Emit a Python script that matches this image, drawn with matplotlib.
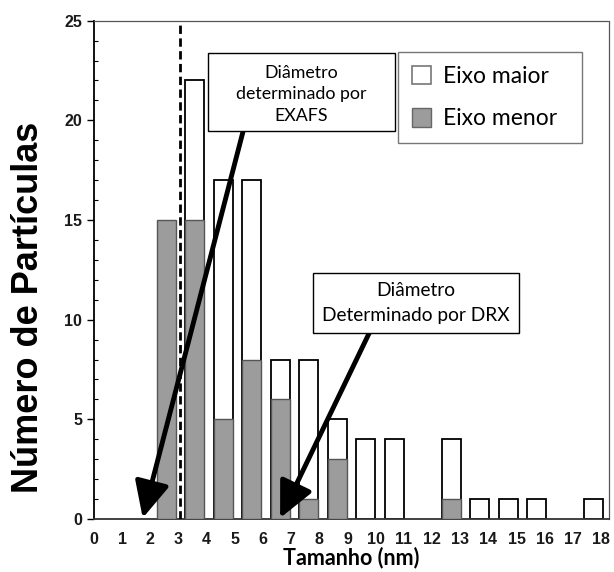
import numpy as np
import matplotlib
matplotlib.use("Agg")
import matplotlib.pyplot as plt
import matplotlib.transforms as mtransforms
from matplotlib.patches import Patch, Rectangle

# particle counts per 1 nm size bin (bin left edge in nm)
bin_left = np.arange(0, 18)
eixo_maior = [0, 0, 0, 22, 17, 17, 8, 8, 5, 4, 4, 0, 4, 1, 1, 1, 0, 1]
eixo_menor = [0, 0, 15, 15, 5, 8, 6, 1, 3, 0, 0, 0, 1, 0, 0, 0, 0, 0]

x_ticks = list(range(0, 19))
y_ticks = [0, 5, 10, 15, 20, 25]

d_exafs_line = 3.0
label_exafs = "Diâmetro\ndeterminado por\nEXAFS"
label_drx = "Diâmetro\nDeterminado por DRX"
legend_labels = ["Eixo maior", "Eixo menor"]

GRAY = "#9c9c9c"
BOX_FONT = ["Lato", "DejaVu Sans"]
AX_FONT = ["Liberation Sans", "DejaVu Sans"]

#=====================================================

def draw_bars(ax):
    maior = np.array(eixo_maior)
    menor = np.array(eixo_menor)
    centers = bin_left + 0.53

    m = maior > 0
    ax.bar(centers[m], maior[m], width=0.67, color="white",
           edgecolor="black", linewidth=1.3, zorder=2)
    m = menor > 0
    ax.bar(centers[m], menor[m], width=0.67, color=GRAY,
           edgecolor="#555555", linewidth=1.0, zorder=3)


def draw_callout(ax, x0, y0, x1, y1, text, size, spacing, ty=None):
    rect = Rectangle((x0, y0), x1 - x0, y1 - y0, facecolor="white",
                     edgecolor="black", linewidth=1.0, zorder=6)
    ax.add_patch(rect)
    if ty is None:
        ty = (y0 + y1) / 2
    ax.text((x0 + x1) / 2, ty, text, ha="center", va="center",
            fontsize=size, family=BOX_FONT, linespacing=spacing, zorder=7)


def draw_arrow(ax, start, tip):
    ax.annotate("", xy=tip, xytext=start, zorder=5,
                arrowprops=dict(arrowstyle="-|>,head_length=1.0,head_width=0.48",
                                mutation_scale=22, lw=3.5, color="black",
                                shrinkA=0, shrinkB=0))

#=====================================================

def main():
    fig = plt.figure(figsize=(6.14, 5.72), dpi=100)
    ax = fig.add_axes([94 / 614, 1 - 519 / 572, 515 / 614, 498.3 / 572])

    draw_bars(ax)

    ax.axvline(d_exafs_line, color="black", lw=2.0, ls=(0, (3, 1.6)), zorder=4)

    draw_arrow(ax, (5.24, 19.5), (1.71, 0.05))
    draw_arrow(ax, (9.68, 9.4), (6.53, 0.05))

    draw_callout(ax, 3.99, 19.48, 10.56, 23.4, label_exafs, 12.8, 1.4, ty=21.3)
    draw_callout(ax, 7.67, 9.35, 14.92, 12.33, label_drx, 13.8, 1.55)

    handles = [Patch(facecolor="white", edgecolor="#777777", linewidth=1.2),
               Patch(facecolor=GRAY, edgecolor="#666666", linewidth=1.0)]
    leg = ax.legend(handles, legend_labels, loc="upper left", mode="expand",
                    bbox_to_anchor=(0.590, 0.80, 0.357, 0.137),
                    frameon=True, fancybox=False,
                    framealpha=1, edgecolor="#777777", borderaxespad=0,
                    prop={"family": BOX_FONT, "size": 16.5},
                    handlelength=0.85, handleheight=0.85, handletextpad=0.5,
                    labelspacing=0.93, borderpad=0.6)
    leg.get_frame().set_linewidth(1.0)
    leg.set_zorder(8)

    ax.set_xlim(0, 18.07)
    ax.set_ylim(0, 25)
    ax.set_xticks(x_ticks)
    ax.set_yticks(y_ticks)
    ax.set_yticks(np.arange(0, 26, 1), minor=True)
    ax.tick_params(axis="x", length=0, pad=9)
    ax.tick_params(axis="y", which="major", direction="out", length=5, width=1)
    ax.tick_params(axis="y", which="minor", direction="in", length=3, width=0.8)
    for lab in ax.get_xticklabels() + ax.get_yticklabels():
        lab.set_family(AX_FONT)
        lab.set_fontweight("bold")
        lab.set_fontsize(11.5)
        lab.set_color("#1a1a1a")

    # size labels run slightly tighter than the bins so "18" stays inside
    for k, lab in enumerate(ax.get_xticklabels()):
        shift = -6.0 * k / 18 / 100
        lab.set_transform(lab.get_transform() +
                          mtransforms.ScaledTranslation(shift, 0, fig.dpi_scale_trans))

    ax.set_xlabel("Tamanho (nm)", family=BOX_FONT, fontweight="bold",
                  fontsize=15.5, labelpad=0)
    ax.set_ylabel("Número de Partículas", family=AX_FONT, fontweight="bold",
                  fontsize=26)
    ax.yaxis.set_label_coords(-0.094, 0.425)

    for side in ["top", "right"]:
        ax.spines[side].set_linestyle((0, (1, 1)))
        ax.spines[side].set_color("#555555")
        ax.spines[side].set_linewidth(0.9)
    ax.spines["left"].set_linewidth(1.3)
    ax.spines["bottom"].set_linewidth(1.3)
    ax.spines["bottom"].set_color("#333333")

    fig.savefig("out.png", dpi=100)


if __name__ == "__main__":
    main()
